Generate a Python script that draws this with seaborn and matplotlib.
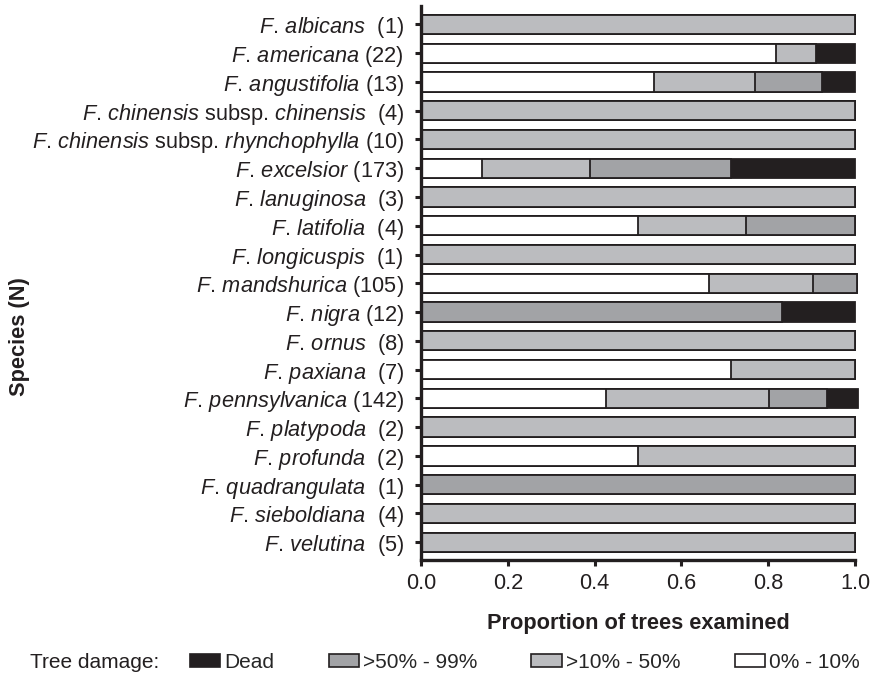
import numpy as np
import pandas as pd
import matplotlib
matplotlib.use("Agg")
import matplotlib.pyplot as plt
import seaborn as sns
from matplotlib.patches import Patch

# ---------------- data ----------------
species = [
    "F. albicans", "F. americana", "F. angustifolia",
    "F. chinensis subsp. chinensis", "F. chinensis subsp. rhynchophylla",
    "F. excelsior", "F. lanuginosa", "F. latifolia", "F. longicuspis",
    "F. mandshurica", "F. nigra", "F. ornus", "F. paxiana",
    "F. pennsylvanica", "F. platypoda", "F. profunda", "F. quadrangulata",
    "F. sieboldiana", "F. velutina",
]
counts = [1, 22, 13, 4, 10, 173, 3, 4, 1, 105, 12, 8, 7, 142, 2, 2, 1, 4, 5]

# proportions per damage class
p_0_10 = [0, 0.818, 0.538, 0, 0, 0.140, 0, 0.500, 0, 0.664, 0, 0, 0.714, 0.426, 0, 0.500, 0, 0, 0]
p_10_50 = [1, 0.091, 0.231, 1, 1, 0.250, 1, 0.250, 1, 0.240, 0, 1, 0.286, 0.376, 1, 0.500, 0, 1, 1]
p_50_99 = [0, 0, 0.154, 0, 0, 0.324, 0, 0.250, 0, 0.101, 0.831, 0, 0, 0.133, 0, 0, 1, 0, 0]
p_dead = [0, 0.091, 0.077, 0, 0, 0.286, 0, 0, 0, 0, 0.169, 0, 0, 0.071, 0, 0, 0, 0, 0]

class_names = ["Dead", ">50% - 99%", ">10% - 50%", "0% - 10%"]
colors = {"Dead": "#231f20", ">50% - 99%": "#a2a3a6", ">10% - 50%": "#bbbcbf", "0% - 10%": "#ffffff"}
edge = "#231f20"

# ---------------- labels ----------------
def ital(text):
    return r"$\mathit{" + text.replace(" ", r"\,") + "}$"

def make_label(name, n):
    parts = name.split(" subsp. ")
    core = " subsp. ".join(ital(p) for p in parts)
    sep = "  " if n < 10 else " "
    return f"{core}{sep}({n})"

labels = [make_label(s, n) for s, n in zip(species, counts)]

df = pd.DataFrame({
    "species": species,
    "c1": np.array(p_0_10),
    "c2": np.array(p_0_10) + np.array(p_10_50),
})
df["c3"] = df["c2"] + np.array(p_50_99)
df["c4"] = df["c3"] + np.array(p_dead)

# ---------------- style ----------------
sns.set_style("ticks")
plt.rcParams["font.family"] = ["Liberation Sans", "DejaVu Sans"]
plt.rcParams["mathtext.fontset"] = "custom"
plt.rcParams["mathtext.rm"] = "Liberation Sans"
plt.rcParams["mathtext.it"] = "Liberation Sans:italic"
plt.rcParams["mathtext.bf"] = "Liberation Sans:bold"

FS = 15.7
LFS = 15
W, H = 884, 675
fig = plt.figure(figsize=(W / 100, H / 100), dpi=100)
ax = fig.add_axes([421 / W, 1 - 560 / H, 434 / W, 554 / H])

layers = [("c4", "Dead"), ("c3", ">50% - 99%"), ("c2", ">10% - 50%"), ("c1", "0% - 10%")]
for col, cls in layers:
    sns.barplot(data=df, x=col, y="species", orient="h", order=species,
                color=colors[cls], saturation=1, width=0.67,
                edgecolor=edge, linewidth=1.3, errorbar=None, ax=ax)

for p in ax.patches:
    p.set_clip_on(False)

ax.set_xlim(0, 1.0)
ax.set_ylim(18.62, -0.64)
ax.set_xticks(np.arange(0, 1.01, 0.2))
ax.set_xticklabels([f"{v:.1f}" for v in np.arange(0, 1.01, 0.2)])
ax.set_yticks(range(len(species)))
ax.set_yticklabels(labels)
ax.set_xlabel("")
ax.set_ylabel("")

sns.despine(ax=ax)
for s in ["left", "bottom"]:
    ax.spines[s].set_linewidth(2.4)
    ax.spines[s].set_color(edge)
ax.tick_params(axis="both", direction="out", length=4.5, width=2.2,
               color=edge, labelsize=FS, labelcolor="#231f20")
ax.tick_params(axis="y", pad=7.5)
ax.tick_params(axis="x", pad=5)

fig.text(638 / W, 1 - 624 / H, "Proportion of trees examined", ha="center", va="center",
         fontsize=FS, fontweight="bold", color="#231f20")
fig.text(20 / W, 1 - 337 / H, "Species (N)", ha="center", va="center", rotation=90,
         fontsize=FS, fontweight="bold", color="#231f20")

# legend
fig.text(30 / W, 1 - 662 / H, "Tree damage:", ha="left", va="center", fontsize=LFS, color="#231f20")
handles = [Patch(facecolor=colors[c], edgecolor=edge, linewidth=1.2, label=c) for c in class_names]
fig.legend(handles=handles, loc="center left", bbox_to_anchor=(190 / W, 1 - 662 / H),
           ncol=4, frameon=False, fontsize=LFS, handlelength=1.45, handleheight=0.6,
           handletextpad=0.2, columnspacing=2.6, borderpad=0, borderaxespad=0)

fig.savefig("out.png", dpi=100)
